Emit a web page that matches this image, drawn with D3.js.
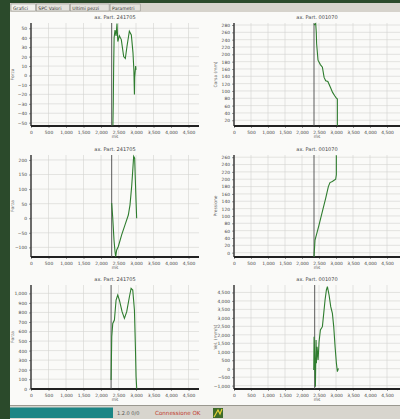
<!DOCTYPE html>
<html>
<head>
<meta charset="utf-8">
<script src="https://cdn.jsdelivr.net/npm/d3@7"></script>
<style>
  body { margin: 0; background: #2b4a2b; }
  svg { display: block; font-family: "DejaVu Sans", sans-serif; }
</style>
</head>
<body>
<div id="chart"></div>
<script>
// x axis (ms) shared by every panel
var xTicks = [0, 500, 1000, 1500, 2000, 2500, 3000, 3500, 4000, 4500];

// panel titles and axis names
var titles = ['ax. Part. 241705', 'ax. Part. 001070', 'ax. Part. 241705', 'ax. Part. 001070', 'ax. Part. 241705', 'ax. Part. 001070'];
var yTitles = ['Forza', 'Corsa (mm)', 'Forza', 'Pressione', 'Forza', 'Vel. (mm/s)'];
var markers = [2305, 2353, 2305, 2353, 2288, 2373];

// y ticks per panel
var yTicks1 = [-50, -40, -30, -20, -10, 0, 10, 20, 30, 40, 50];
var yTicks2 = [20, 40, 60, 80, 100, 120, 140, 160, 180, 200, 220, 240, 260, 280];
var yTicks3 = [-100, -50, 0, 50, 100, 150, 200];
var yTicks4 = [0, 20, 40, 60, 80, 100, 120, 140, 160, 180, 200, 220, 240, 260];
var yTicks5 = [0, 100, 200, 300, 400, 500, 600, 700, 800, 900, 1000];
var yTicks6 = [-1000, -500, 0, 500, 1000, 1500, 2000, 2500, 3000, 3500, 4000, 4500];

// curves, [ms, value]
var force1 = [[2340,-53],[2350,-30],[2362,10],[2375,40],[2400,48],[2430,42],[2457,55],[2480,36],[2524,42],[2580,38],[2648,20],[2695,18],[2743,31],[2810,47],[2867,43],[2914,24],[2940,5],[2955,-20],[2962,-2],[2990,10],[3000,6]];
var corsa2 = [[2353,280],[2403,284],[2420,260],[2430,229],[2471,184],[2540,172],[2600,165],[2650,137],[2697,128],[2760,126],[2835,110],[2900,96],[2962,87],[3000,82],[3040,78],[3040,5]];
var force3 = [[2305,52],[2333,6],[2371,-74],[2400,-114],[2419,-132],[2448,-109],[2495,-97],[2590,-57],[2686,-23],[2781,11],[2829,46],[2876,109],[2905,160],[2933,212],[2962,206],[2981,132],[3000,63],[3019,0]];
var press4 = [[2353,-11],[2382,34],[2422,48],[2500,75],[2598,112],[2696,148],[2775,180],[2823,191],[2892,194],[2990,200],[3010,212],[3010,265]];
var force5 = [[2288,91],[2307,545],[2336,685],[2383,720],[2431,930],[2478,983],[2526,930],[2602,808],[2669,738],[2735,808],[2812,965],[2860,1052],[2907,1035],[2955,825],[2983,440],[3002,126],[3021,0]];
var vel6 = [[2345,-79],[2355,1890],[2375,512],[2394,-1063],[2414,1693],[2424,315],[2443,1299],[2473,512],[2502,1594],[2541,2283],[2600,2480],[2639,3268],[2678,4055],[2718,4646],[2747,4843],[2796,4350],[2845,3661],[2894,3268],[2933,2480],[2973,1299],[3012,315],[3041,-177],[3071,20]];

var W = 400, H = 419;
var svg = d3.select('#chart').append('svg').attr('width', W).attr('height', H);

// window frame
svg.append('rect').attr('width', W).attr('height', H).attr('fill', '#2b4a2b');
svg.append('rect').attr('x', 10).attr('y', 3).attr('width', 390).attr('height', 9).attr('fill', '#d6d3cc');
svg.append('rect').attr('x', 10).attr('y', 12).attr('width', 390).attr('height', 393).attr('fill', '#fafaf8');

var tabs = ['Grafici', 'SPC Valori', 'Ultimi pezzi', 'Parametri'];
var tx = 11;
tabs.forEach(function(t, i) {
  var w = t.length * 2.9 + 4;
  svg.append('rect').attr('x', tx).attr('y', 4).attr('width', w).attr('height', 7)
    .attr('fill', i === 0 ? '#f2f1ec' : '#e4e2dc').attr('stroke', '#8a8a84').attr('stroke-width', 0.5);
  svg.append('text').attr('x', tx + 2).attr('y', 9.5).attr('font-size', 4.6).attr('fill', '#333').text(t);
  tx += w + 1;
});

// status bar
svg.append('rect').attr('x', 10).attr('y', 405).attr('width', 390).attr('height', 14).attr('fill', '#d8d5ce');
svg.append('line').attr('x1', 10).attr('x2', 400).attr('y1', 405.5).attr('y2', 405.5).attr('stroke', '#9a9890');
svg.append('rect').attr('x', 10).attr('y', 407.5).attr('width', 103).attr('height', 10.5).attr('fill', '#1b8585');
svg.append('text').attr('x', 117).attr('y', 415).attr('font-size', 5).attr('fill', '#555').text('1.2.0   0/0');
svg.append('text').attr('x', 155).attr('y', 415).attr('font-size', 5.6).attr('fill', '#c0392b').text('Connessione OK');
svg.append('rect').attr('x', 213).attr('y', 408).attr('width', 10).attr('height', 10).attr('fill', '#3d6b2a');
svg.append('path').attr('d', 'M214,417 L218,410 L220,414 L222,409').attr('fill', 'none').attr('stroke', '#e8d23a').attr('stroke-width', 1.2);

var panels = [
  { col: 0, row: 0, data: force1, ticks: yTicks1, dom: [-53.5, 55.6] },
  { col: 1, row: 0, data: corsa2, ticks: yTicks2, dom: [4.3, 285.5] },
  { col: 0, row: 1, data: force3, ticks: yTicks3, dom: [-133, 217] },
  { col: 1, row: 1, data: press4, ticks: yTicks4, dom: [-11.8, 266] },
  { col: 0, row: 2, data: force5, ticks: yTicks5, dom: [-3, 1088] },
  { col: 1, row: 2, data: vel6, ticks: yTicks6, dom: [-1200, 4940] }
];

var colX = [[31, 199], [234, 400]];
var rowY = [[23, 126], [155, 257], [285, 389]];
var fmt = d3.format(',');

panels.forEach(function(p, i) {
  var left = colX[p.col][0], right = colX[p.col][1];
  var top = rowY[p.row][0], bottom = rowY[p.row][1];
  var x = d3.scaleLinear().domain([0, (right - left) / (p.col === 0 ? 35 : 34) * 1000]).range([left, right]);
  var y = d3.scaleLinear().domain(p.dom).range([bottom, top]);
  var g = svg.append('g');

  // grid
  g.selectAll('.vg').data(xTicks).enter().append('line')
    .attr('x1', function(d) { return x(d); }).attr('x2', function(d) { return x(d); })
    .attr('y1', top).attr('y2', bottom).attr('stroke', '#d4d4d0').attr('stroke-width', 0.6);
  g.selectAll('.hg').data(p.ticks).enter().append('line')
    .attr('x1', left).attr('x2', right)
    .attr('y1', function(d) { return y(d); }).attr('y2', function(d) { return y(d); })
    .attr('stroke', '#d4d4d0').attr('stroke-width', 0.6);

  // axes
  var ax = g.append('g').attr('transform', 'translate(0,' + bottom + ')')
    .call(d3.axisBottom(x).tickValues(xTicks).tickSize(2).tickPadding(3).tickFormat(fmt));
  var ay = g.append('g').attr('transform', 'translate(' + left + ',0)')
    .call(d3.axisLeft(y).tickValues(p.ticks).tickSize(2).tickPadding(2).tickFormat(fmt));
  [ax, ay].forEach(function(a) {
    a.select('.domain').remove();
    a.selectAll('text').attr('font-size', 4.4).attr('fill', '#444').attr('font-family', 'DejaVu Sans');
    a.selectAll('line').attr('stroke', '#555').attr('stroke-width', 0.6);
  });
  g.append('line').attr('x1', left).attr('x2', left).attr('y1', top).attr('y2', bottom)
    .attr('stroke', '#333').attr('stroke-width', 1.4);
  g.append('line').attr('x1', left).attr('x2', right).attr('y1', bottom).attr('y2', bottom)
    .attr('stroke', '#222').attr('stroke-width', 1.8);

  // titles
  g.append('text').attr('x', (left + right) / 2).attr('y', top - 4).attr('text-anchor', 'middle')
    .attr('font-size', 5).attr('fill', '#444').text(titles[i]);
  g.append('text').attr('x', (left + right) / 2).attr('y', bottom + 12).attr('text-anchor', 'middle')
    .attr('font-size', 4.4).attr('fill', '#555').text('ms');
  g.append('text').attr('transform', 'translate(' + (left - 17) + ',' + (top + bottom) / 2 + ') rotate(-90)')
    .attr('text-anchor', 'middle').attr('font-size', 4.4).attr('fill', '#666').text(yTitles[i]);

  // marker line
  g.append('line').attr('x1', x(markers[i])).attr('x2', x(markers[i])).attr('y1', top).attr('y2', bottom)
    .attr('stroke', '#4a4a4a').attr('stroke-width', 0.9);

  // curve
  var line = d3.line().x(function(d) { return x(d[0]); }).y(function(d) { return y(d[1]); });
  g.append('path').datum(p.data).attr('d', line).attr('fill', 'none')
    .attr('stroke', '#2f7d2f').attr('stroke-width', 1.1);
});
</script>
</body>
</html>
